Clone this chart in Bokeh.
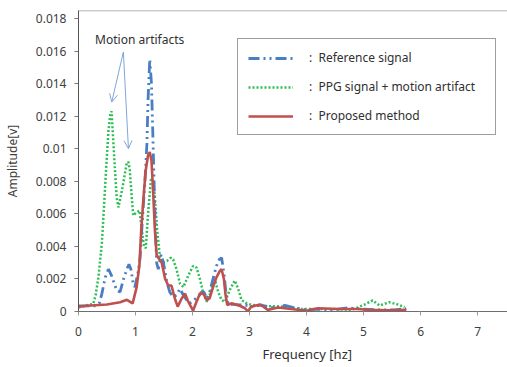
from bokeh.plotting import figure
from bokeh.models import FixedTicker, Legend, LegendItem, Span, Label, Arrow, OpenHead, Range1d, Title
from bokeh.embed import file_html
from bokeh.resources import INLINE

# ---- data (frequency in Hz, amplitude in V) ----
ref_x = [0, 0.15, 0.3, 0.37, 0.41, 0.47, 0.525, 0.58, 0.67, 0.73, 0.79, 0.86, 0.885, 0.92, 0.96,
         0.99, 1.05, 1.08, 1.12, 1.17, 1.2, 1.22, 1.25, 1.28, 1.31, 1.34, 1.37, 1.40, 1.45, 1.49,
         1.55, 1.6, 1.66, 1.72, 1.78, 1.84, 1.9, 1.95, 2.02, 2.1, 2.16, 2.2, 2.25, 2.3, 2.36, 2.42,
         2.47, 2.51, 2.55, 2.59, 2.63, 2.7, 2.8, 2.9, 3.0, 3.09, 3.18, 3.3, 3.44, 3.62, 3.79, 4.0,
         4.2, 4.45, 4.72, 4.97, 5.26, 5.55, 5.75]
ref_y = [0.00035, 0.00035, 0.00035, 0.00055, 0.0011, 0.0021, 0.0026, 0.0022, 0.0013, 0.0012,
         0.0020, 0.0027, 0.0029, 0.0026, 0.0017, 0.0015, 0.0025, 0.0033, 0.0056, 0.0083, 0.0103,
         0.0130, 0.0155, 0.0140, 0.0101, 0.0060, 0.0030, 0.0026, 0.0035, 0.0030, 0.0018, 0.0012,
         0.0009, 0.0010, 0.0014, 0.0010, 0.0007, 0.0005, 0.0007, 0.0009, 0.0012, 0.0012, 0.0008,
         0.0012, 0.0020, 0.0028, 0.0032, 0.0033, 0.0024, 0.0010, 0.0004, 0.00045, 0.0004, 0.0004,
         0.00035, 0.00026, 0.00043, 0.0003, 0.00023, 0.00037, 0.00023, 0.0001, 0.00014, 0.0001,
         0.00023, 0.00015, 0.0001, 0.0001, 0.00017]

ppg_x = [0, 0.17, 0.26, 0.3, 0.35, 0.41, 0.44, 0.48, 0.525, 0.56, 0.58, 0.6, 0.64, 0.67, 0.7,
         0.76, 0.845, 0.875, 0.9, 0.93, 0.96, 1.02, 1.07, 1.11, 1.15, 1.18, 1.22, 1.27, 1.31, 1.34,
         1.38, 1.43, 1.475, 1.55, 1.62, 1.66, 1.72, 1.78, 1.84, 1.925, 2.01, 2.07, 2.13, 2.19,
         2.25, 2.3, 2.36, 2.39, 2.45, 2.51, 2.57, 2.65, 2.74, 2.8, 2.86, 2.95, 3.04, 3.33, 3.62,
         3.91, 4.2, 4.49, 4.78, 4.9, 5.02, 5.16, 5.28, 5.45, 5.6, 5.72]
ppg_y = [0.00025, 0.0004, 0.00047, 0.0010, 0.0021, 0.0042, 0.0060, 0.0085, 0.0111, 0.0122,
         0.0123, 0.0111, 0.0087, 0.0070, 0.0064, 0.0074, 0.0091, 0.0092, 0.0087, 0.0072, 0.0059,
         0.0061, 0.0062, 0.0050, 0.0040, 0.0039, 0.0060, 0.0081, 0.0081, 0.0070, 0.0050, 0.0033,
         0.0030, 0.0031, 0.0033, 0.0032, 0.0026, 0.0017, 0.0015, 0.0022, 0.0028, 0.0027, 0.0020,
         0.0011, 0.0006, 0.0010, 0.0018, 0.0020, 0.0012, 0.0007, 0.0006, 0.0013, 0.0019, 0.0014,
         0.0007, 0.0005, 0.0004, 0.00033, 0.0003, 0.00015, 0.00015, 0.00015, 0.0001, 0.00025,
         0.00043, 0.00068, 0.00037, 0.00057, 0.00043, 0.00026]

prop_x = [0, 0.15, 0.5, 0.73, 0.85, 0.95, 1.02, 1.07, 1.1, 1.14, 1.18, 1.22, 1.25, 1.28, 1.31,
          1.34, 1.37, 1.4, 1.46, 1.52, 1.575, 1.63, 1.69, 1.74, 1.81, 1.87, 1.925, 2.01, 2.07,
          2.13, 2.19, 2.25, 2.3, 2.36, 2.42, 2.48, 2.51, 2.55, 2.58, 2.61, 2.68, 2.8, 2.92, 2.97,
          3.03, 3.15, 3.22, 3.32, 3.39, 3.5, 3.73, 4.0, 4.2, 4.55, 4.9, 5.1, 5.45, 5.75]
prop_y = [0.0003, 0.00035, 0.00043, 0.00057, 0.00072, 0.0005, 0.0015, 0.0029, 0.0050, 0.0070,
          0.0087, 0.0096, 0.0098, 0.0093, 0.0073, 0.0050, 0.0035, 0.0033, 0.0030, 0.0020, 0.0016,
          0.0016, 0.0008, 0.0003, 0.0008, 0.0011, 0.0006, 0.00006, 0.0006, 0.0011, 0.0011, 0.0007,
          0.0008, 0.0015, 0.0021, 0.0025, 0.0026, 0.0020, 0.0010, 0.0004, 0.0005, 0.0004, 0.0002,
          0.0, 0.0003, 0.0004, 0.00035, 0.0001, 0.00015, 0.00025, 0.00015, 0.00005, 0.0002,
          0.00015, 0.00015, 0.0001, 0.00007, 0.0001]

x_ticks = [0, 1, 2, 3, 4, 5, 6, 7]
y_ticks = [0, 0.002, 0.004, 0.006, 0.008, 0.01, 0.012, 0.014, 0.016, 0.018]
y_tick_labels = ["0", "0.002", "0.004", "0.006", "0.008", "0.01", "0.012", "0.014", "0.016", "0.018"]

series_labels = [":  Reference signal", ":  PPG signal + motion artifact\u00a0\u00a0\u00a0",
                 ":  Proposed method"]
note_text = "Motion artifacts"
note_pos = (1.073, 0.01673)
arrow_start = (0.787, 0.01595)
arrow_ends = [(0.583, 0.01287), (0.876, 0.01001)]

FONT = "Noto Sans"
TXT = "#404040"

p = figure(width=507, height=367, output_backend="svg", toolbar_location=None,
           x_range=Range1d(0, 7.525), y_range=Range1d(0, 0.0185),
           min_border_left=77, min_border_right=0, min_border_top=10, min_border_bottom=56)
p.outline_line_color = None
p.xgrid.grid_line_color = None
p.ygrid.grid_line_color = None

r_ppg = p.line(ppg_x, ppg_y, line_color="#2cbf55", line_width=2.5, line_dash="2 2")
r_ref = p.line(ref_x, ref_y, line_color="#4a7ec4", line_width=2.8, line_dash="11 4 2 4 2 4")
r_prop = p.line(prop_x, prop_y, line_color="#c0504d", line_width=2.6)

# axes
p.xaxis.ticker = FixedTicker(ticks=x_ticks)
p.yaxis.ticker = FixedTicker(ticks=y_ticks)
p.yaxis.major_label_overrides = dict(zip(y_ticks, y_tick_labels))
for ax in (p.xaxis[0], p.yaxis[0]):
    ax.minor_tick_line_color = None
    ax.major_tick_in = 0
    ax.major_tick_out = 4
    ax.major_label_text_font = FONT
    ax.major_label_text_font_size = "12px"
    ax.major_label_text_color = TXT
p.xaxis.axis_line_color = "#6e6e6e"
p.xaxis.major_tick_line_color = "#9a9a9a"
p.xaxis.major_label_standoff = 11
p.yaxis.axis_line_color = "#555555"
p.yaxis.major_tick_line_color = "#777777"
p.yaxis.major_label_standoff = 8
p.yaxis.axis_label = "Amplitude[v]"
p.yaxis.axis_label_text_font = FONT
p.yaxis.axis_label_text_font_size = "12px"
p.yaxis.axis_label_text_font_style = "normal"
p.yaxis.axis_label_text_color = TXT
p.yaxis.axis_label_standoff = 12

# top border line
p.add_layout(Span(location=0.0185, dimension="width", line_color="#9a9a9a", line_width=1.5))

# x axis title
p.add_layout(Title(text="Frequency [hz]", align="left", offset=184, standoff=8,
                   text_font=FONT, text_font_size="13px", text_font_style="normal",
                   text_color="#303030"), "below")

# annotation
p.add_layout(Label(x=note_pos[0], y=note_pos[1], text=note_text, text_align="center",
                   text_baseline="middle", text_font=FONT, text_font_size="12px",
                   text_color="#303030"))
for ex, ey in arrow_ends:
    p.add_layout(Arrow(end=OpenHead(size=8, line_color="#7fa6d8", line_width=1),
                       x_start=arrow_start[0], y_start=arrow_start[1], x_end=ex, y_end=ey,
                       line_color="#7fa6d8", line_width=1))

legend = Legend(items=[LegendItem(label=series_labels[0], renderers=[r_ref]),
                       LegendItem(label=series_labels[1], renderers=[r_ppg]),
                       LegendItem(label=series_labels[2], renderers=[r_prop])],
                location=(159, 176), orientation="vertical",
                border_line_color="#404040", border_line_width=1, background_fill_alpha=1,
                padding=10, spacing=12, margin=0, glyph_width=45, glyph_height=14,
                label_height=14, label_standoff=16, label_text_font=FONT,
                label_text_font_size="12px", label_text_color="#303030")
p.add_layout(legend)

open("out.html", "w").write(file_html(p, INLINE))
